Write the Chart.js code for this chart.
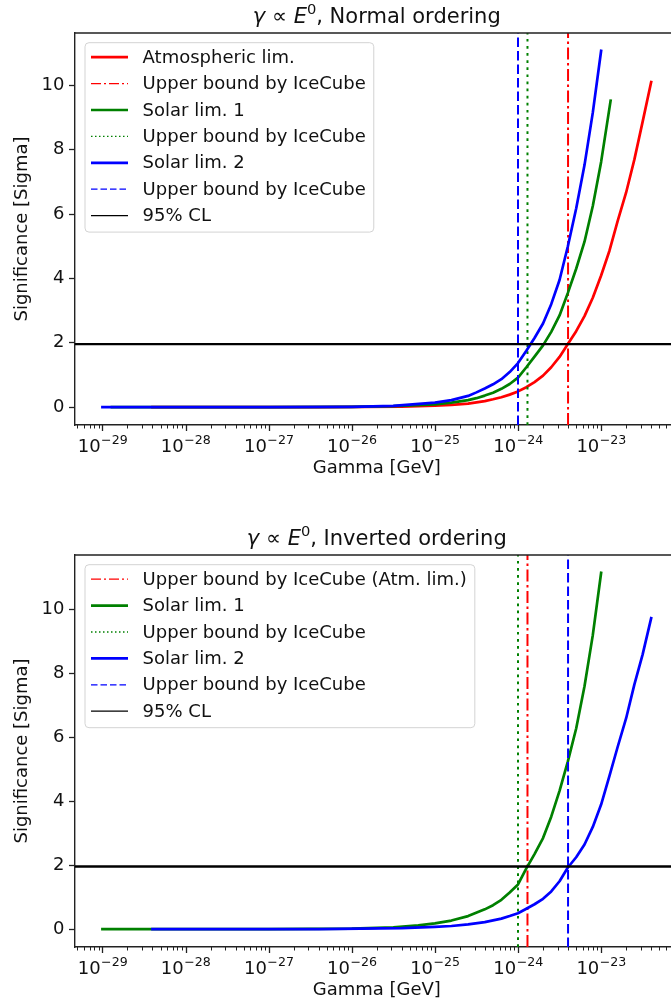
<!DOCTYPE html>
<html>
<head>
<meta charset="utf-8">
<title>Significance vs Gamma</title>
<script src="https://cdn.jsdelivr.net/npm/chart.js@4.4.0/dist/chart.umd.min.js"></script>
<style>
  html, body { margin: 0; padding: 0; background: #fff; overflow: hidden; }
  body { width: 671px; height: 1008px; }
  canvas { display: block; }
</style>
</head>
<body>
<canvas id="normal" width="700" height="522"></canvas>
<canvas id="inverted" width="700" height="486"></canvas>
<script>
// ---- significance curves, gamma in GeV ----
// normal ordering
const noAtmGamma = [4e-29, 4e-28, 4e-27, 4e-26, 1e-25, 1.58e-25, 2.51e-25, 3.98e-25, 5.01e-25, 6.31e-25, 7.94e-25, 1e-24, 1.26e-24, 1.58e-24, 2e-24, 2.51e-24, 3.16e-24, 3.98e-24, 5.01e-24, 6.31e-24, 7.94e-24, 1e-23, 1.26e-23, 1.58e-23, 2e-23, 2.51e-23, 3.16e-23, 4e-23];
const noAtmSigma = [0, 0, 0, 0.02, 0.045, 0.07, 0.11, 0.19, 0.245, 0.31, 0.39, 0.49, 0.62, 0.78, 0.98, 1.24, 1.56, 1.96, 2.36, 2.83, 3.4, 4.09, 4.86, 5.78, 6.67, 7.69, 8.87, 10.1];

const noSol1Gamma = [1.3e-29, 1e-27, 1e-26, 3.16e-26, 1e-25, 1.58e-25, 2.51e-25, 3.16e-25, 3.98e-25, 5.01e-25, 6.31e-25, 7.94e-25, 1e-24, 1.26e-24, 1.58e-24, 2e-24, 2.51e-24, 3.16e-24, 3.98e-24, 5.01e-24, 6.31e-24, 7.94e-24, 1e-23, 1.3e-23];
const noSol1Sigma = [0, 0, 0.01, 0.03, 0.09, 0.14, 0.22, 0.28, 0.36, 0.45, 0.57, 0.72, 0.92, 1.24, 1.57, 1.92, 2.34, 2.85, 3.55, 4.3, 5.14, 6.25, 7.62, 9.52];

const noSol2Gamma = [1e-29, 1e-28, 1e-27, 1e-26, 3.16e-26, 1e-25, 1.58e-25, 2.51e-25, 3.16e-25, 3.98e-25, 5.01e-25, 6.31e-25, 7.94e-25, 1e-24, 1.26e-24, 1.58e-24, 2e-24, 2.51e-24, 3.16e-24, 3.98e-24, 5.01e-24, 6.31e-24, 7.94e-24, 1e-23];
const noSol2Sigma = [0, 0, 0, 0.01, 0.04, 0.14, 0.22, 0.35, 0.46, 0.58, 0.71, 0.87, 1.09, 1.37, 1.75, 2.15, 2.6, 3.2, 3.95, 5.0, 6.17, 7.52, 9.15, 11.07];

// inverted ordering
const ioSol1Gamma = [1e-29, 1e-28, 1e-27, 1e-26, 3.16e-26, 6.31e-26, 1e-25, 1.58e-25, 2.51e-25, 3.98e-25, 5.01e-25, 6.31e-25, 7.94e-25, 1e-24, 1.26e-24, 1.58e-24, 2e-24, 2.51e-24, 3.16e-24, 3.98e-24, 5.01e-24, 6.31e-24, 7.94e-24, 1e-23];
const ioSol1Sigma = [0, 0, 0, 0.02, 0.06, 0.12, 0.18, 0.27, 0.41, 0.62, 0.75, 0.92, 1.15, 1.4, 1.9, 2.35, 2.85, 3.52, 4.33, 5.25, 6.28, 7.6, 9.2, 11.15];

const ioSol2Gamma = [4e-29, 4e-28, 4e-27, 4e-26, 1e-25, 1.58e-25, 2.51e-25, 3.98e-25, 6.31e-25, 7.94e-25, 1e-24, 1.26e-24, 1.58e-24, 2e-24, 2.51e-24, 3.16e-24, 3.98e-24, 5.01e-24, 6.31e-24, 7.94e-24, 1e-23, 1.26e-23, 1.58e-23, 2e-23, 2.51e-23, 3.16e-23, 4e-23];
const ioSol2Sigma = [0, 0, 0, 0.03, 0.07, 0.1, 0.15, 0.22, 0.33, 0.41, 0.5, 0.64, 0.78, 0.95, 1.18, 1.5, 1.93, 2.25, 2.65, 3.2, 3.9, 4.8, 5.7, 6.6, 7.65, 8.6, 9.73];

// IceCube upper bounds on gamma (GeV)
const noBoundAtm = 4e-24, noBoundSol1 = 1.3e-24, noBoundSol2 = 1e-24;
const ioBoundAtm = 1.3e-24, ioBoundSol1 = 1e-24, ioBoundSol2 = 4e-24;
const sigma95 = 1.96;

const yTicks = [0, 2, 4, 6, 8, 10];
const xDecades = [-29, -28, -27, -26, -25, -24, -23];

// ---- styling ----
const FONT = "'DejaVu Sans', sans-serif";
const INK = '#111';
const SPINE = '#222';
const RED = '#ff0000', GREEN = '#008000', BLUE = '#0000ff';
const DASHES = { solid: [], dashdot: [12, 3.5, 2.5, 3.5], dotted: [2.7, 4.4], dashed: [9.5, 4] };
const LEGEND_DASHES = { solid: [], dashdot: [10, 3, 2, 3], dotted: [1.5, 2.5], dashed: [6.5, 3] };

Chart.defaults.font.family = FONT;
Chart.defaults.color = INK;

function curve(label, gamma, sigma, color) {
  return { kind: 'curve', label, color, style: 'solid', data: gamma.map((g, i) => ({ x: g, y: sigma[i] })) };
}
function bound(label, g, color, style) {
  return { kind: 'vline', label, color, style, value: g };
}
function level(label, s) {
  return { kind: 'hline', label, color: '#000', style: 'solid', value: s };
}

function drawTitle(ctx, cx, baseline, tail) {
  const size = 21;
  const parts = [
    { t: 'γ', f: `italic ${size}px ${FONT}`, dy: 0 },
    { t: ' ∝ ', f: `${size}px ${FONT}`, dy: 0 },
    { t: 'E', f: `italic ${size}px ${FONT}`, dy: 0 },
    { t: '0', f: `${(size * 0.7).toFixed(1)}px ${FONT}`, dy: -size * 0.42 },
    { t: ', ' + tail, f: `${size}px ${FONT}`, dy: 0 }
  ];
  let total = 0;
  parts.forEach(p => { ctx.font = p.f; p.w = ctx.measureText(p.t).width; total += p.w; });
  let x = cx - total / 2;
  ctx.textAlign = 'left';
  ctx.textBaseline = 'alphabetic';
  ctx.fillStyle = INK;
  parts.forEach(p => { ctx.font = p.f; ctx.fillText(p.t, x, baseline + p.dy); x += p.w; });
}

// spines, log ticks, title and the framed legend inside the axes
function decorPlugin(titleTail, items) {
  return {
    id: 'decor',
    afterDraw(chart) {
      const { ctx, chartArea: a } = chart;
      const x = chart.scales.x;
      ctx.save();

      ctx.strokeStyle = SPINE;
      ctx.lineWidth = 1.4;
      ctx.setLineDash([]);
      ctx.beginPath();
      ctx.moveTo(a.left - 0.7, a.top);
      ctx.lineTo(a.right, a.top);
      ctx.lineTo(a.right, a.bottom);
      ctx.stroke();

      const e0 = Math.floor(Math.log10(x.min)), e1 = Math.ceil(Math.log10(x.max));
      for (let e = e0; e <= e1; e++) {
        for (let k = 1; k <= 9; k++) {
          const v = k * Math.pow(10, e);
          if (v < x.min || v > x.max) continue;
          const px = Math.round(x.getPixelForValue(v)) + 0.5;
          ctx.lineWidth = k === 1 ? 1.3 : 1;
          ctx.beginPath();
          ctx.moveTo(px, a.bottom);
          ctx.lineTo(px, a.bottom + (k === 1 ? 6 : 3.5));
          ctx.stroke();
        }
      }

      ctx.fillStyle = INK;
      ctx.textAlign = 'left';
      ctx.textBaseline = 'alphabetic';
      xDecades.forEach(e => {
        const px = x.getPixelForValue(Math.pow(10, e));
        const base = '10', sup = '\u2212' + Math.abs(e);
        ctx.font = `18px ${FONT}`;
        const wb = ctx.measureText(base).width;
        ctx.font = `12.6px ${FONT}`;
        const ws = ctx.measureText(sup).width;
        const x0 = px - (wb + ws) / 2;
        ctx.font = `18px ${FONT}`;
        ctx.fillText(base, x0, a.bottom + 27);
        ctx.font = `12.6px ${FONT}`;
        ctx.fillText(sup, x0 + wb + 0.5, a.bottom + 18.5);
      });

      drawTitle(ctx, (a.left + a.right) / 2, 22.5, titleTail);

      // legend
      const fs = 18, pad = 6, hl = 37, gap = 14.6, rowH = 26.4;
      ctx.font = `${fs}px ${FONT}`;
      const tw = Math.max(...items.map(d => ctx.measureText(d.label).width));
      const bx = a.left + 10, by = a.top + 9.7;
      const bw = 57.6 + tw + 8, bh = 31 + (items.length - 1) * rowH;
      ctx.beginPath();
      ctx.roundRect(bx, by, bw, bh, 4);
      ctx.fillStyle = 'rgba(255,255,255,0.8)';
      ctx.fill();
      ctx.strokeStyle = '#d3d3d3';
      ctx.lineWidth = 1;
      ctx.stroke();
      items.forEach((d, i) => {
        const cy = by + 14.5 + i * rowH;
        ctx.strokeStyle = d.color;
        ctx.lineWidth = d.kind === 'curve' ? 2.7 : 1.3;
        ctx.setLineDash(LEGEND_DASHES[d.style]);
        ctx.beginPath();
        ctx.moveTo(bx + pad, cy);
        ctx.lineTo(bx + pad + hl, cy);
        ctx.stroke();
        ctx.setLineDash([]);
        ctx.fillStyle = INK;
        ctx.textBaseline = 'middle';
        ctx.fillText(d.label, bx + 57.6, cy + 1);
      });

      ctx.restore();
    }
  };
}

function makePanel(canvasId, titleTail, items) {
  const canvas = document.getElementById(canvasId);
  const curves = items.filter(d => d.kind === 'curve');
  const gs = curves.flatMap(c => c.data.map(p => p.x));
  const ss = curves.flatMap(c => c.data.map(p => p.y));
  const lo = Math.log10(Math.min(...gs)), hi = Math.log10(Math.max(...gs));
  const xMin = Math.pow(10, lo - 0.05 * (hi - lo));
  const xMax = Math.pow(10, hi + 0.05 * (hi - lo));
  const sMin = Math.min(...ss), sMax = Math.max(...ss);
  const yMin = sMin - 0.05 * (sMax - sMin);
  const yMax = sMax + 0.05 * (sMax - sMin);

  const datasets = items.map((d, i) => {
    let data = d.data;
    if (d.kind === 'vline') data = [{ x: d.value, y: yMin }, { x: d.value, y: yMax }];
    if (d.kind === 'hline') data = [{ x: xMin, y: d.value }, { x: xMax, y: d.value }];
    return {
      label: d.label,
      data: data,
      borderColor: d.color,
      backgroundColor: d.color,
      borderWidth: d.kind === 'curve' ? 2.7 : (d.kind === 'hline' ? 2.4 : 2),
      borderDash: DASHES[d.style],
      borderCapStyle: d.kind === 'curve' ? 'square' : 'butt',
      borderJoinStyle: 'round',
      pointRadius: 0,
      fill: false,
      tension: 0,
      order: items.length - i   // later entries drawn on top
    };
  });

  const axisTop = 33, axisBottom = 425, xAxisH = 53.8;

  new Chart(canvas, {
    type: 'line',
    data: { datasets: datasets },
    options: {
      responsive: false,
      animation: false,
      devicePixelRatio: 1,
      layout: { padding: { left: 0, top: axisTop, right: 21.4, bottom: canvas.height - axisBottom - xAxisH } },
      plugins: { legend: { display: false }, tooltip: { enabled: false } },
      scales: {
        x: {
          type: 'logarithmic',
          min: xMin,
          max: xMax,
          grid: { display: false },
          ticks: { display: false },
          border: { color: SPINE, width: 1.4 },
          title: { display: true, text: 'Gamma [GeV]', font: { size: 18 }, color: INK, padding: 0 },
          afterFit: s => { s.height = xAxisH; }
        },
        y: {
          type: 'linear',
          min: yMin,
          max: yMax,
          afterBuildTicks: s => { s.ticks = yTicks.map(v => ({ value: v })); },
          grid: { drawOnChartArea: false, drawTicks: true, tickLength: 6, tickColor: SPINE, tickWidth: 1.3 },
          border: { color: SPINE, width: 1.4 },
          ticks: { font: { size: 18 }, color: INK, padding: 4.5 },
          title: { display: true, text: 'Significance [Sigma]', font: { size: 18 }, color: INK, padding: { top: 12, bottom: 0 } },
          afterFit: s => { s.width = 75; }
        }
      }
    },
    plugins: [decorPlugin(titleTail, items)]
  });
}

makePanel('normal', 'Normal ordering', [
  curve('Atmospheric lim.', noAtmGamma, noAtmSigma, RED),
  bound('Upper bound by IceCube', noBoundAtm, RED, 'dashdot'),
  curve('Solar lim. 1', noSol1Gamma, noSol1Sigma, GREEN),
  bound('Upper bound by IceCube', noBoundSol1, GREEN, 'dotted'),
  curve('Solar lim. 2', noSol2Gamma, noSol2Sigma, BLUE),
  bound('Upper bound by IceCube', noBoundSol2, BLUE, 'dashed'),
  level('95% CL', sigma95)
]);

makePanel('inverted', 'Inverted ordering', [
  bound('Upper bound by IceCube (Atm. lim.)', ioBoundAtm, RED, 'dashdot'),
  curve('Solar lim. 1', ioSol1Gamma, ioSol1Sigma, GREEN),
  bound('Upper bound by IceCube', ioBoundSol1, GREEN, 'dotted'),
  curve('Solar lim. 2', ioSol2Gamma, ioSol2Sigma, BLUE),
  bound('Upper bound by IceCube', ioBoundSol2, BLUE, 'dashed'),
  level('95% CL', sigma95)
]);
</script>
</body>
</html>
